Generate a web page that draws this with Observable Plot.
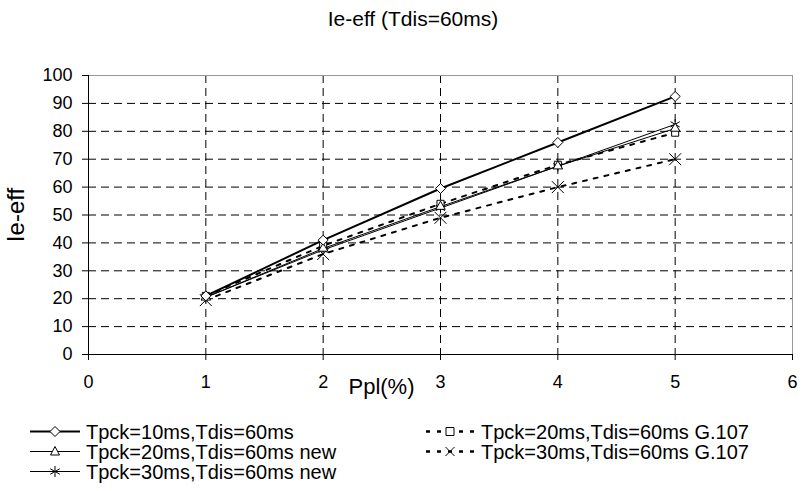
<!DOCTYPE html>
<html>
<head>
<meta charset="utf-8">
<script src="https://cdn.jsdelivr.net/npm/d3@7"></script>
<script src="https://cdn.jsdelivr.net/npm/@observablehq/plot@0.6"></script>
<style>
  body { margin: 0; background: #fff; font-family: Arial, "Liberation Sans", sans-serif; }
  #wrap { width: 802px; height: 491px; position: relative; overflow: hidden; }
  #title { position: absolute; top: 7px; left: 0; width: 826px; text-align: center; font-size: 21px; line-height: 24px; color: #000; }
  #chart { position: absolute; top: 40px; left: 0; }
  #legend { position: absolute; top: 422px; left: 0; width: 802px; }
  .item { position: absolute; display: flex; align-items: center; font-size: 20px; line-height: 18px; height: 19px; white-space: nowrap; color: #000; }
  .item span { display: block; height: 18px; line-height: 18px; }
  .item svg { margin-right: 6px; }
</style>
</head>
<body>
<div id="wrap">
  <div id="title">Ie-eff (Tdis=60ms)</div>
  <div id="chart"></div>
  <div id="legend"></div>
</div>
<script>
const ppl = [1, 2, 3, 4, 5];
const seriesNames = [
  "Tpck=10ms,Tdis=60ms",
  "Tpck=20ms,Tdis=60ms new",
  "Tpck=30ms,Tdis=60ms new",
  "Tpck=20ms,Tdis=60ms G.107",
  "Tpck=30ms,Tdis=60ms G.107"
];
const tpck10 = [21, 41, 59.5, 76, 92.5];
const tpck20new = [20.5, 38, 53, 67.5, 81];
const tpck30new = [20.5, 37.5, 52.5, 67.5, 82.5];
const tpck20g107 = [21, 39, 54, 68, 79.5];
const tpck30g107 = [19.5, 36, 49, 60, 70];
const xTicks = [0, 1, 2, 3, 4, 5, 6];
const yTicks = [0, 10, 20, 30, 40, 50, 60, 70, 80, 90, 100];

const values = [tpck10, tpck20new, tpck30new, tpck20g107, tpck30g107];
const styles = [
  {symbol: "diamond2", width: 2, dash: null, r: 4.5},
  {symbol: "triangle2", width: 1, dash: null, r: 4.5},
  {symbol: "asterisk", width: 1, dash: null, r: 5},
  {symbol: "square2", width: 2, dash: "4,7", r: 4.5},
  {symbol: "times", width: 2, dash: "4,7", r: 5.5}
];
const data = [];
values.forEach((arr, i) => arr.forEach((v, j) => data.push({series: seriesNames[i], idx: i, x: ppl[j], y: v})));

const marks = [
  Plot.gridY(yTicks.filter(d => d > 0 && d < 100), {stroke: "#000", strokeOpacity: 1, strokeDasharray: "8,5"}),
  Plot.gridX(ppl, {stroke: "#000", strokeOpacity: 1, strokeDasharray: "8,5"}),
  Plot.frame({stroke: "#999"}),
  Plot.ruleX([0], {stroke: "#000"}),
  Plot.ruleY([0], {stroke: "#000"}),
  Plot.axisY({ticks: yTicks, tickSize: 6, tickPadding: 10, label: "Ie-eff", labelAnchor: "center", labelOffset: 82, labelArrow: "none", fontSize: 18}),
  Plot.axisX({ticks: xTicks, tickSize: 6, tickPadding: 15, tickFormat: d3.format("d"), label: null, fontSize: 18}),
  Plot.text(["Ppl(%)"], {frameAnchor: "bottom", dx: -59, dy: 39, fontSize: 22, fill: "#000"})
];
[4, 3, 2, 1, 0].forEach(i => {
  const st = styles[i];
  const d = data.filter(e => e.idx === i);
  marks.push(Plot.line(d, {x: "x", y: "y", stroke: "#000", strokeWidth: st.width, strokeDasharray: st.dash}));
});
[4, 3, 2, 1, 0].forEach(i => {
  const st = styles[i];
  const d = data.filter(e => e.idx === i);
  marks.push(Plot.dot(d, {x: "x", y: "y", symbol: () => st.symbol, r: st.r, stroke: "#000", strokeWidth: 1, fill: (st.symbol.endsWith("2") ? "#fff" : "none")}));
});

const chart = Plot.plot({
  width: 802,
  height: 360,
  marginLeft: 88,
  marginRight: 10,
  marginTop: 35,
  marginBottom: 46,
  style: {fontFamily: "Arial, 'Liberation Sans', sans-serif", fontSize: "18px", color: "#000", background: "#fff", overflow: "visible"},
  x: {domain: [0, 6]},
  y: {domain: [0, 100]},
  symbol: {type: "identity"},
  marks
});
chart.querySelectorAll("[aria-label='y-axis label'] text").forEach(t => t.setAttribute("font-size", "24"));
document.getElementById("chart").appendChild(chart);

// Legend
const legend = document.getElementById("legend");
const positions = [
  {left: 30, top: 0}, {left: 30, top: 20}, {left: 30, top: 40},
  {left: 425, top: 0}, {left: 425, top: 20}
];
const symPaths = {
  diamond2: "M0,-5L5,0L0,5L-5,0Z",
  triangle2: "M0,-5L4.5,3.5L-4.5,3.5Z",
  square2: "M-4,-4H4V4H-4Z",
  times: "M-4.5,-4.5L4.5,4.5M4.5,-4.5L-4.5,4.5",
  asterisk: "M0,-5.5V5.5M-4.8,-2.75L4.8,2.75M4.8,-2.75L-4.8,2.75"
};
seriesNames.forEach((name, i) => {
  const st = styles[i];
  const div = document.createElement("div");
  div.className = "item";
  div.style.left = positions[i].left + "px";
  div.style.top = positions[i].top + "px";
  const w = 50;
  const filled = st.symbol.endsWith("2");
  const line = st.dash
    ? `<line x1="1" y1="10" x2="${w}" y2="10" stroke="#000" stroke-width="2.5" stroke-dasharray="4,7"/>`
    : `<line x1="0" y1="10" x2="${w}" y2="10" stroke="#000" stroke-width="${st.width}"/>`;
  div.innerHTML = `<svg width="${w}" height="19" viewBox="0 0.5 ${w} 19">${line}<path transform="translate(${w/2},10)" d="${symPaths[st.symbol]}" fill="${filled ? '#fff' : 'none'}" stroke="#000" stroke-width="1"/></svg><span>${name}</span>`;
  legend.appendChild(div);
});
</script>
</body>
</html>
